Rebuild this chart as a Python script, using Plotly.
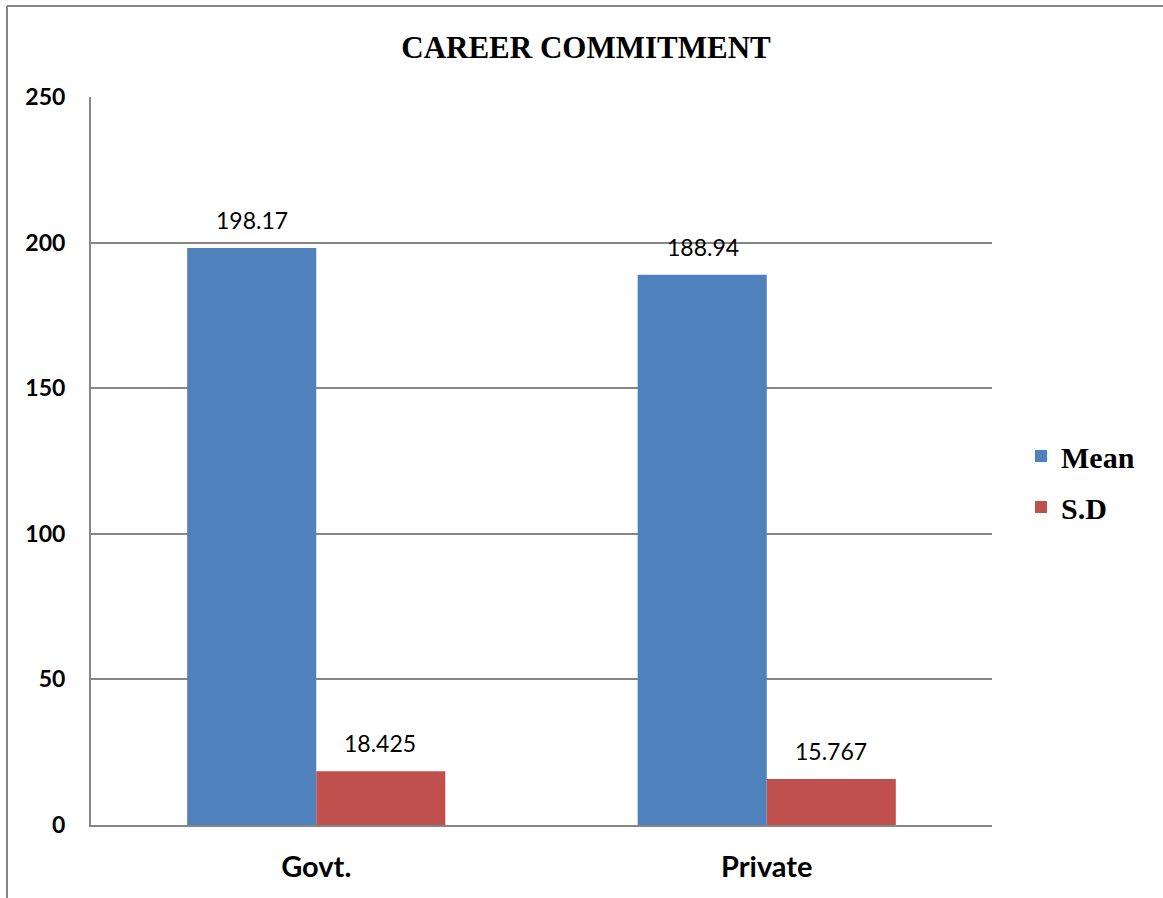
import plotly.graph_objects as go

categories = ["Govt.", "Private"]
mean_vals = [198.17, 188.94]
sd_vals = [18.425, 15.767]
mean_labels = ["198.17", "188.94"]
sd_labels = ["18.425", "15.767"]
y_ticks = [0, 50, 100, 150, 200, 250]

W, H = 1163, 898
L, R, T, B = 91, 171, 97, 73

fig = go.Figure()
fig.add_trace(go.Bar(name="<b>Mean</b>", x=categories, y=mean_vals, marker_color="#4F81BD",
                     marker_line_width=0, legendgroup="m"))
fig.add_trace(go.Bar(name="<b>S.D</b>", x=categories, y=sd_vals, marker_color="#C0504D",
                     marker_line_width=0, legendgroup="s"))

# data labels
for i, c in enumerate(categories):
    fig.add_annotation(x=c, y=mean_vals[i], text=mean_labels[i], xshift=-64, yshift=28,
                       showarrow=False, font=dict(family="Lato", size=23, color="#000"))
    fig.add_annotation(x=c, y=sd_vals[i], text=sd_labels[i], xshift=64, yshift=28,
                       showarrow=False, font=dict(family="Lato", size=23, color="#000"))

pw = W - L - R
ph = H - T - B
def px_x(p):
    return (p - L) / pw
def px_y(p):
    return (H - B - p) / ph

# outer border (left and top)
fig.add_shape(type="line", xref="paper", yref="paper", x0=px_x(7), x1=px_x(7),
              y0=px_y(6), y1=px_y(900), line=dict(color="#868686", width=2))
fig.add_shape(type="line", xref="paper", yref="paper", x0=px_x(7), x1=px_x(1165),
              y0=px_y(6), y1=px_y(6), line=dict(color="#868686", width=2))

fig.update_layout(
    width=W, height=H,
    margin=dict(l=L, r=R, t=T, b=B, autoexpand=False),
    paper_bgcolor="white", plot_bgcolor="white",
    barmode="group", bargap=0.427, bargroupgap=0,
    title=dict(text="<b>CAREER COMMITMENT</b>", xref="container", x=586 / W, xanchor="center",
               yref="container", y=1 - 47 / H, yanchor="middle",
               font=dict(family="Liberation Serif", size=31, color="#000")),
    legend=dict(x=px_x(1021), xanchor="left", y=px_y(430), yanchor="top",
                font=dict(family="Liberation Serif", size=30, color="#000"),
                itemwidth=30, tracegroupgap=9, traceorder="grouped",
                bgcolor="rgba(0,0,0,0)"),
    showlegend=True,
)
fig.update_xaxes(showline=True, linecolor="#868686", linewidth=2, showgrid=False,
                 ticks="", ticklabelstandoff=15,
                 tickfont=dict(family="Lato", size=29, color="#000", weight="bold"))
fig.update_yaxes(range=[0, 250], tickvals=y_ticks, showline=True, linecolor="#868686",
                 linewidth=2, showgrid=True, gridcolor="#868686", gridwidth=1.5,
                 zeroline=False, ticks="", ticklabelstandoff=19,
                 tickfont=dict(family="Lato", size=23, color="#000", weight="bold"))

fig.write_html("out.html")
